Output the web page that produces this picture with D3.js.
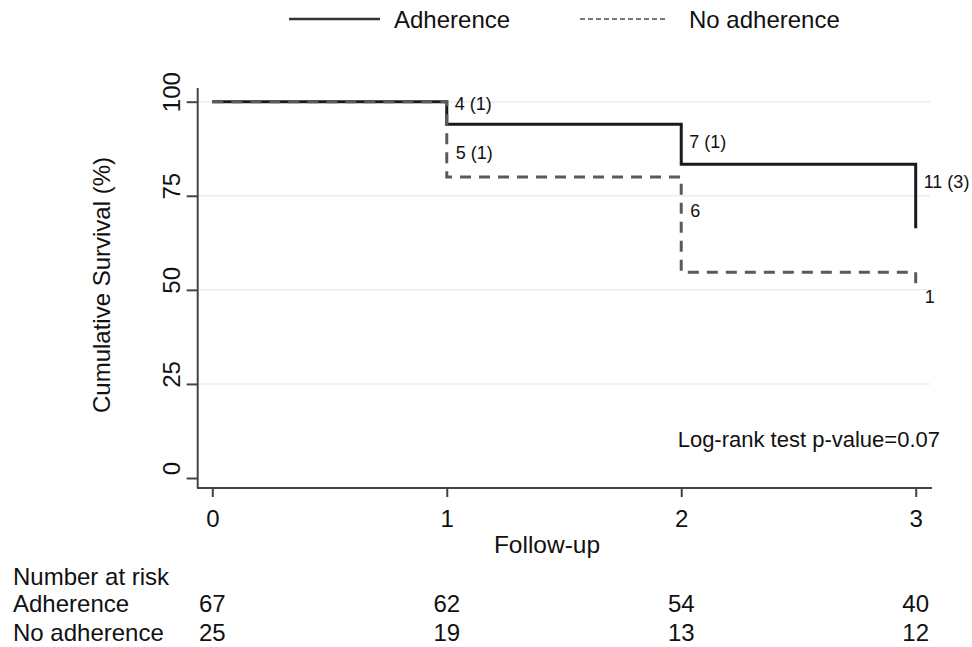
<!DOCTYPE html>
<html>
<head>
<meta charset="utf-8">
<script src="https://cdn.jsdelivr.net/npm/d3@7"></script>
<style>
  body { margin: 0; background: #fff; }
  text { font-family: "Liberation Sans", Arial, sans-serif; fill: #111; }
</style>
</head>
<body>
<svg id="chart" width="972" height="647"></svg>
<script>
// follow-up times and survival (%) per group
var times = [0, 1, 2, 3];
var adherence = [100, 94.0, 83.4, 66.4];
var noAdherence = [100, 80.0, 54.7, 50.5];
var yTicks = [0, 25, 50, 75, 100];
var gridTicks = [25, 50, 75, 100];

// events (censored) next to each drop
var adhLabels = ["4 (1)", "7 (1)", "11 (3)"];
var adhLabelY = [99.4, 89.3, 78.6];
var noLabels = ["5 (1)", "6", "1"];
var noLabelY = [86.3, 70.9, 48.2];

// number at risk table
var riskGroups = ["Adherence", "No adherence"];
var riskAdh = [67, 62, 54, 40];
var riskNo = [25, 19, 13, 12];

var svg = d3.select("#chart");

var x = d3.scaleLinear().domain([0, 3]).range([212.3, 915.7]);
var y = d3.scaleLinear().domain([0, 100]).range([478, 101.7]);

//grid
svg.selectAll(".grid").data(gridTicks).enter().append("line")
    .attr("x1", 199).attr("x2", 930)
    .attr("y1", function (d) { return y(d); }).attr("y2", function (d) { return y(d); })
    .attr("stroke", "#ececec").attr("stroke-width", 1.5);

// axes
var xAxis = d3.axisBottom(x).tickValues(times).tickSize(9).tickFormat(d3.format("d"));
var gx = svg.append("g").attr("transform", "translate(0,488)").call(xAxis);
gx.select(".domain").attr("d", "M197,0H932");
gx.selectAll("line, path").attr("stroke", "#444").attr("stroke-width", 2);
gx.selectAll("text").attr("y", 39).attr("dy", null).style("font-size", "24px").attr("fill", "#111");

var yAxis = d3.axisLeft(y).tickValues(yTicks).tickSize(11);
var gy = svg.append("g").attr("transform", "translate(197.7,0)").call(yAxis);
gy.select(".domain").attr("d", "M0,88V488");
gy.selectAll("line, path").attr("stroke", "#444").attr("stroke-width", 2);
gy.selectAll(".tick text")
    .attr("x", 0).attr("y", 0).attr("dy", null)
    .attr("text-anchor", "middle")
    .attr("transform", "translate(-18,-10) rotate(-90)")
    .style("font-size", "24px").attr("fill", "#111");

// step lines
function stepPath(vals) {
    var line = d3.line()
        .x(function (d, i) { return x(times[i]); })
        .y(function (d) { return y(d); })
        .curve(d3.curveStepAfter);
    return line(vals);
}

svg.append("path").attr("d", stepPath(adherence))
    .attr("fill", "none").attr("stroke", "#1a1a1a").attr("stroke-width", 3);
svg.append("path").attr("d", stepPath(noAdherence))
    .attr("fill", "none").attr("stroke", "#5a5a5a").attr("stroke-width", 3)
    .attr("stroke-dasharray", "11,8");

// event labels
svg.selectAll(".adhlab").data(adhLabels).enter().append("text")
    .attr("x", function (d, i) { return x(times[i + 1]) + 8; })
    .attr("y", function (d, i) { return y(adhLabelY[i]); })
    .attr("dominant-baseline", "central")
    .style("font-size", "18px")
    .text(function (d) { return d; });
svg.selectAll(".nolab").data(noLabels).enter().append("text")
    .attr("x", function (d, i) { return x(times[i + 1]) + 9; })
    .attr("y", function (d, i) { return y(noLabelY[i]); })
    .attr("dominant-baseline", "central")
    .style("font-size", "18px")
    .text(function (d) { return d; });

// legend
svg.append("line").attr("x1", 289).attr("x2", 380).attr("y1", 19).attr("y2", 19)
    .attr("stroke", "#333").attr("stroke-width", 2.5);
svg.append("text").attr("x", 394).attr("y", 28).style("font-size", "24px").text("Adherence");
svg.append("line").attr("x1", 580).attr("x2", 668).attr("y1", 19).attr("y2", 19)
    .attr("stroke", "#777").attr("stroke-width", 2).attr("stroke-dasharray", "5,3");
svg.append("text").attr("x", 689).attr("y", 28).style("font-size", "24px").text("No adherence");

// titles
svg.append("text").attr("transform", "translate(110,285) rotate(-90)")
    .attr("text-anchor", "middle").style("font-size", "24px").text("Cumulative Survival (%)");
svg.append("text").attr("x", 547).attr("y", 553)
    .attr("text-anchor", "middle").style("font-size", "24.5px").text("Follow-up");
svg.append("text").attr("x", 940).attr("y", 447)
    .attr("text-anchor", "end").style("font-size", "22px").text("Log-rank test p-value=0.07");

// number at risk
svg.append("text").attr("x", 13).attr("y", 585).style("font-size", "24px").text("Number at risk");
var rows = [riskAdh, riskNo];
rows.forEach(function (r, k) {
    var by = 612 + k * 28.5;
    svg.append("text").attr("x", 13).attr("y", by).style("font-size", "24px").text(riskGroups[k]);
    svg.selectAll(".risk" + k).data(r).enter().append("text")
        .attr("x", function (d, i) { return x(times[i]); })
        .attr("y", by)
        .attr("text-anchor", "middle")
        .style("font-size", "24px")
        .text(function (d) { return d; });
});
</script>
</body>
</html>
